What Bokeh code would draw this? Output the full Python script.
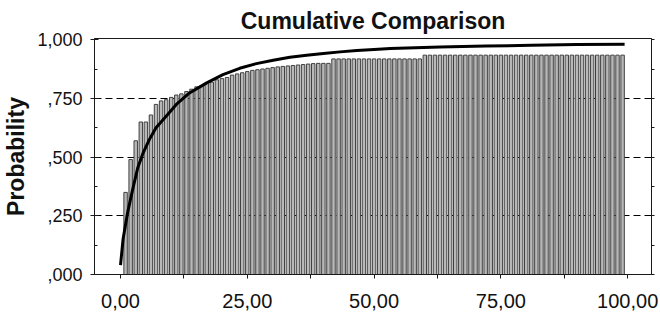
from bokeh.plotting import figure
from bokeh.models import FixedTicker, LinearAxis, Range1d
from bokeh.embed import file_html
from bokeh.resources import INLINE

# ---- data ----
bar_x = list(range(1, 100))
bar_top = (
    [0.35, 0.49, 0.57, 0.65, 0.65, 0.68, 0.725, 0.74, 0.745, 0.755,
     0.765, 0.77, 0.78, 0.79, 0.80, 0.805, 0.815, 0.82, 0.83, 0.835,
     0.84, 0.85, 0.855, 0.86, 0.865, 0.87, 0.873, 0.876, 0.879, 0.882,
     0.885, 0.887, 0.889, 0.891, 0.893, 0.895, 0.897, 0.899, 0.90, 0.90,
     0.90]
    + [0.919] * 18
    + [0.935] * 40
)

curve_x = [0, 0.5, 1.4, 2.4, 3.4, 4.4, 5.7, 7, 9, 11, 13.6, 17, 20.2, 23.5,
           26.8, 30.1, 33.4, 36.7, 40, 43.3, 46.6, 50, 53.2, 56.5, 63, 72,
           81, 90, 99.4]
curve_y = [0.04, 0.15, 0.264, 0.363, 0.455, 0.515, 0.576, 0.626, 0.675,
           0.725, 0.774, 0.817, 0.852, 0.879, 0.899, 0.913, 0.926, 0.935,
           0.942, 0.949, 0.955, 0.959, 0.963, 0.966, 0.970, 0.974, 0.977,
           0.980, 0.982]

x_ticks = [0, 25, 50, 75, 100]
x_tick_labels = ["0,00", "25,00", "50,00", "75,00", "100,00"]
x_minor_ticks = [12.5, 37.5, 62.5, 87.5]
y_ticks = [0, 0.25, 0.5, 0.75, 1.0]
y_tick_labels = [",000", ",250", ",500", ",750", "1,000"]
y_minor_ticks = [0.125, 0.375, 0.625, 0.875]
y_grid_ticks = [0.25, 0.5, 0.75]
right_ticks = [0, 0.125, 0.25, 0.375, 0.5, 0.625, 0.75, 0.875, 1.0]

# ---- figure ----
p = figure(frame_width=557, frame_height=236, output_backend="svg",
           toolbar_location=None,
           x_range=Range1d(-5.13, 104.7), y_range=Range1d(0, 1.006),
           title="Cumulative Comparison",
           min_border_left=87, min_border_right=8, min_border_top=38,
           min_border_bottom=42)
p.background_fill_color = "white"
p.border_fill_color = "white"
p.outline_line_color = "#1a1a1a"
p.outline_line_width = 1

p.title.align = "center"
p.title.text_font = "Liberation Sans"
p.title.text_font_size = "23px"
p.title.text_font_style = "bold"
p.title.text_color = "#111111"
p.title.standoff = 10

# grid
p.xgrid.visible = False
p.ygrid.ticker = FixedTicker(ticks=y_grid_ticks)
p.ygrid.grid_line_color = "black"
p.ygrid.grid_line_dash = "7 4"
p.ygrid.grid_line_width = 1

# x axis
xa = p.xaxis[0]
xa.ticker = FixedTicker(ticks=x_ticks, minor_ticks=x_minor_ticks)
xa.major_label_overrides = dict(zip(x_ticks, x_tick_labels))
xa.major_label_text_font = "Liberation Sans"
xa.major_label_text_font_size = "20px"
xa.major_label_text_color = "#111111"
xa.major_tick_in = 0
xa.major_tick_out = 4
xa.minor_tick_in = 0
xa.minor_tick_out = 4
xa.major_label_standoff = 15
xa.axis_line_color = "#1a1a1a"
xa.major_tick_line_color = "#1a1a1a"
xa.minor_tick_line_color = "#1a1a1a"

# y axis
ya = p.yaxis[0]
ya.ticker = FixedTicker(ticks=y_ticks, minor_ticks=y_minor_ticks)
ya.major_label_overrides = dict(zip(y_ticks, y_tick_labels))
ya.major_label_text_font = "Liberation Sans"
ya.major_label_text_font_size = "18px"
ya.major_label_text_color = "#111111"
ya.major_tick_in = 4
ya.major_tick_out = 4
ya.minor_tick_in = 3
ya.minor_tick_out = 0
ya.major_label_standoff = 8
ya.axis_label = "Probability"
ya.axis_label_text_font = "Liberation Sans"
ya.axis_label_text_font_size = "23px"
ya.axis_label_text_font_style = "bold"
ya.axis_label_text_color = "#111111"
ya.axis_label_standoff = 5
ya.axis_line_color = "#1a1a1a"
ya.major_tick_line_color = "#1a1a1a"
ya.minor_tick_line_color = "#1a1a1a"

# right axis: ticks only
ra = LinearAxis(ticker=FixedTicker(ticks=[], minor_ticks=right_ticks))
ra.minor_tick_in = 0
ra.minor_tick_out = 3
ra.axis_line_color = "#1a1a1a"
ra.minor_tick_line_color = "#1a1a1a"
p.add_layout(ra, "right")

# bars and curve
p.vbar(x=bar_x, top=bar_top, bottom=0, width=0.68,
       fill_color="#b8b8b8", line_color="#404040", line_width=1)
p.line(curve_x, curve_y, line_width=3, color="black", line_join="round")

open("out.html", "w").write(file_html(p, INLINE))
